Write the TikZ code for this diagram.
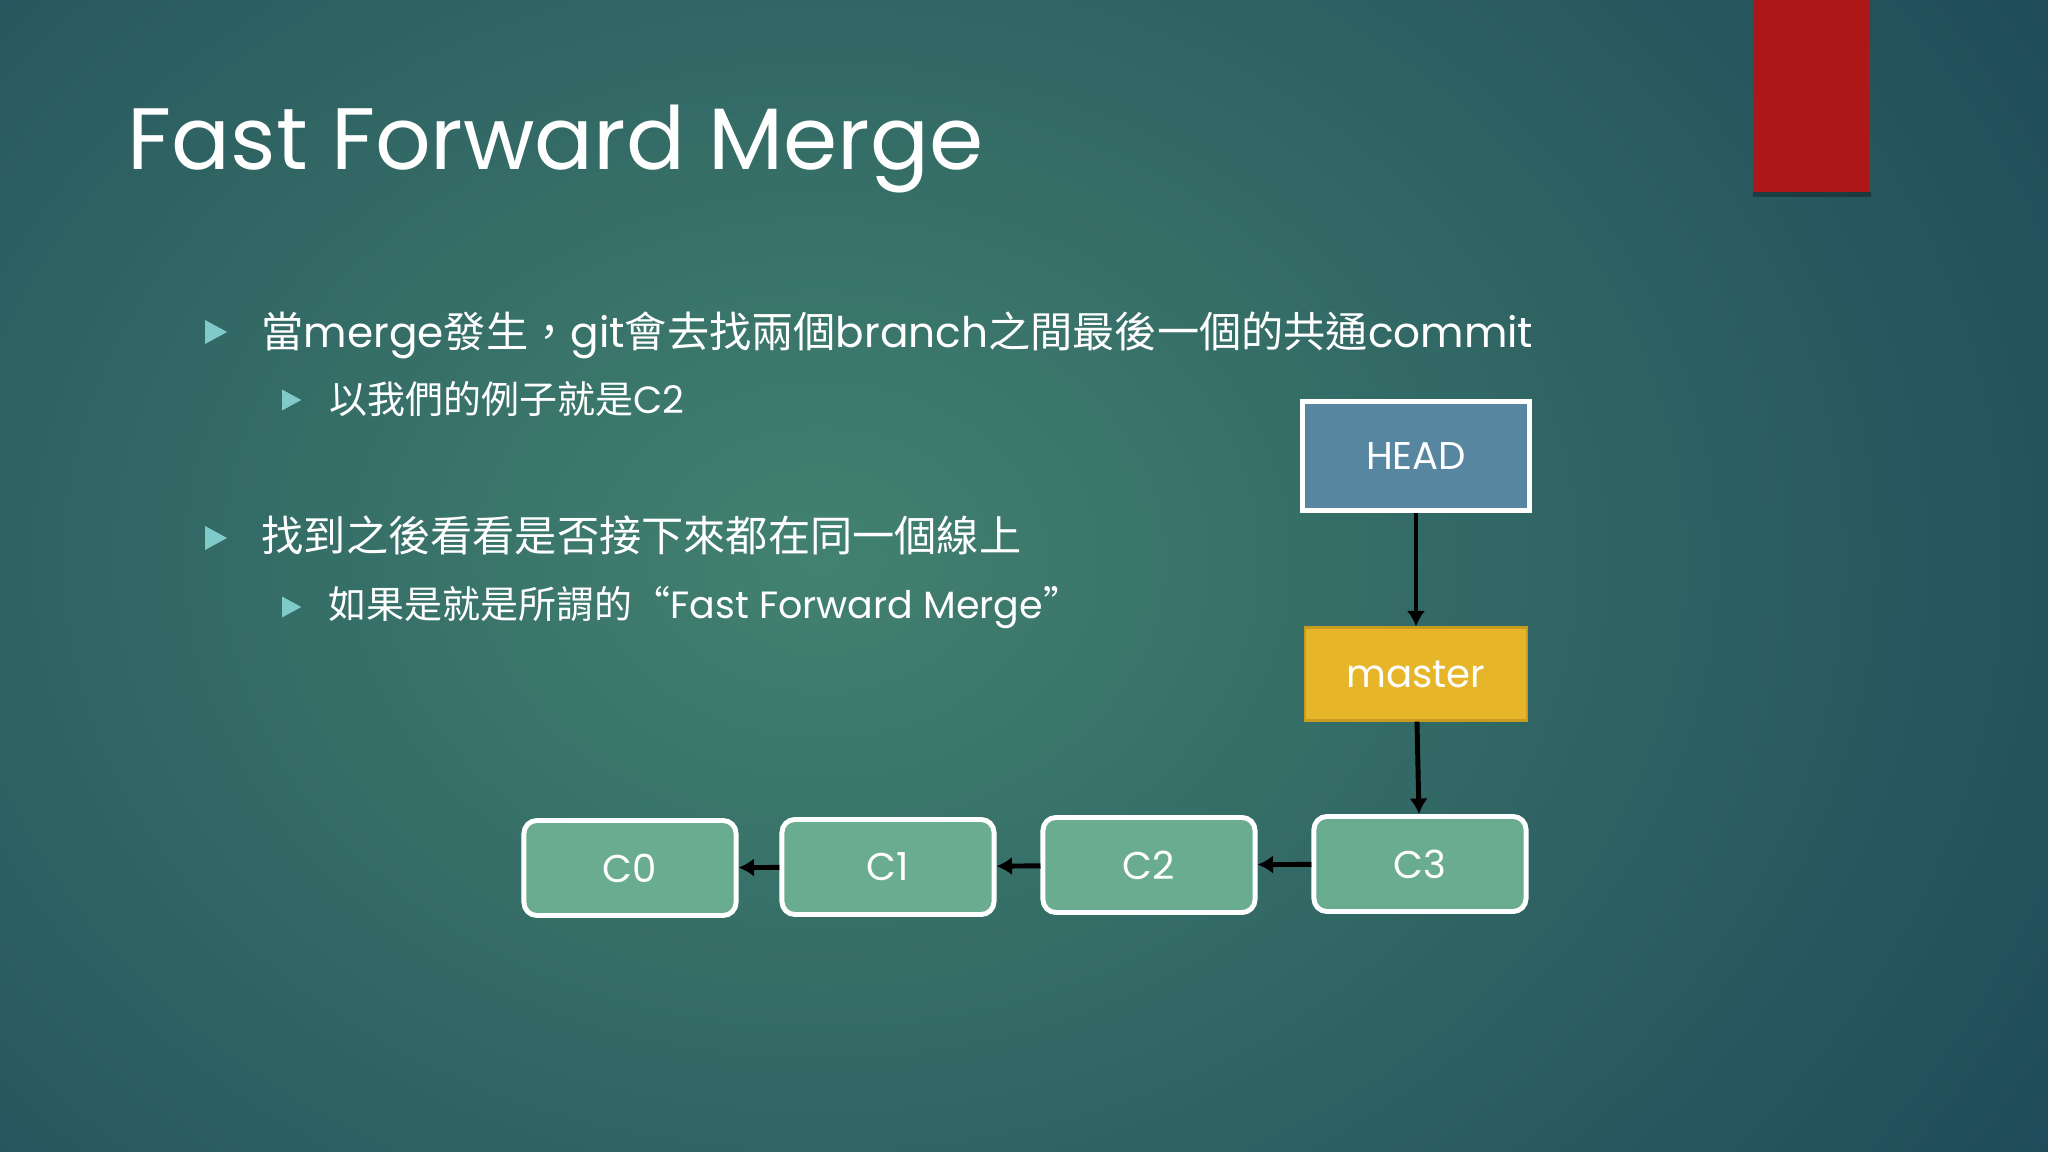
\documentclass[tikz,border=0pt]{standalone}
\usepackage{fontspec}
\setmainfont{Poppins}
\newfontfamily\cjk{Noto Sans CJK TC}
\usetikzlibrary{arrows.meta}
\definecolor{bgin}{HTML}{42816F}
\definecolor{bgout}{HTML}{1B4557}
\definecolor{cred}{HTML}{AE1717}
\definecolor{cbul}{HTML}{80CACA}
\definecolor{chead}{HTML}{5686A0}
\definecolor{cmaster}{HTML}{E7B52A}
\definecolor{cmasterline}{HTML}{C99B1F}
\definecolor{ccommit}{HTML}{69AC8F}
\tikzset{
  every picture/.style={>={Latex[length=4.4pt,width=5.2pt]}, x=0.01cm, y=-0.01cm},
  lbl/.style={text=white, font=\fontsize{11}{13}\selectfont},
  headbox/.style={lbl, draw=white, fill=chead, line width=1.2pt,
    minimum width=2.27cm, minimum height=1.09cm},
  masterbox/.style={lbl, draw=cmasterline, fill=cmaster, line width=0.6pt,
    minimum width=2.22cm, minimum height=0.93cm},
  commit/.style={lbl, draw=white, fill=ccommit, line width=1.4pt,
    rounded corners=0.13cm, minimum width=2.12cm, minimum height=0.95cm},
  lvlone/.style={anchor=base west, inner sep=0pt, text=white,
    font=\fontsize{12}{14}\selectfont},
  lvltwo/.style={anchor=base west, inner sep=0pt, text=white,
    font=\fontsize{10.8}{13}\selectfont},
  link/.style={->, line width=1.4pt},
}
% bullet: x, y (centre), height
\newcommand{\bul}[3]{\fill[cbul] (#1,{#2-#3*0.5}) -- ({#1+#3*0.92},#2) -- (#1,{#2+#3*0.5}) -- cycle;}

\begin{document}
\begin{tikzpicture}
  \useasboundingbox (0,0) rectangle (2048,1152);
  \begin{scope}
    \clip (0,0) rectangle (2048,1152);
    \fill[bgout] (0,0) rectangle (2048,1152);
    \shade[inner color=bgin, outer color=bgout] (820,560) ellipse (1600 and 1250);
  \end{scope}
  \fill[black, opacity=0.3] (1753,192) rectangle (1871,197);
  \fill[cred] (1753,0) rectangle (1869,192);

  \node[anchor=base west, inner sep=0pt, text=white,
    font=\fontsize{24.8}{30}\selectfont] (title) at (127,170) {Fast Forward Merge};

  \bul{205}{332}{24}
  \node[lvlone] (b1) at (261,348) {{\cjk 當}merge{\cjk 發生，}git{\cjk 會去找兩個}branch{\cjk 之間最後一個的共通}commit};
  \bul{282}{400}{21}
  \node[lvltwo] (b1a) at (329,414) {{\cjk 以我們的例子就是}C2};
  \bul{205}{538}{24}
  \node[lvlone] (b2) at (261,551) {\cjk 找到之後看看是否接下來都在同一個線上};
  \bul{282}{607}{21}
  \node[lvltwo] (b2a) at (328,619) {{\cjk 如果是就是所謂的“}Fast Forward Merge{\cjk ”}};

  \node[headbox] (head) at (1416,456) {HEAD};
  \node[masterbox] (master) at (1416,674) {master};
  \node[commit] (c3) at (1420,864) {C3};
  \node[commit] (c2) at (1149,865) {C2};
  \node[commit] (c1) at (888,867) {C1};
  \node[commit] (c0) at (630,868) {C0};

  \draw[link] (head) -- (master);
  \draw[link] (master) -- (c3);
  \draw[link] (c3) -- (c2);
  \draw[link] (c2) -- (c1);
  \draw[link] (c1) -- (c0);
\end{tikzpicture}
\end{document}
